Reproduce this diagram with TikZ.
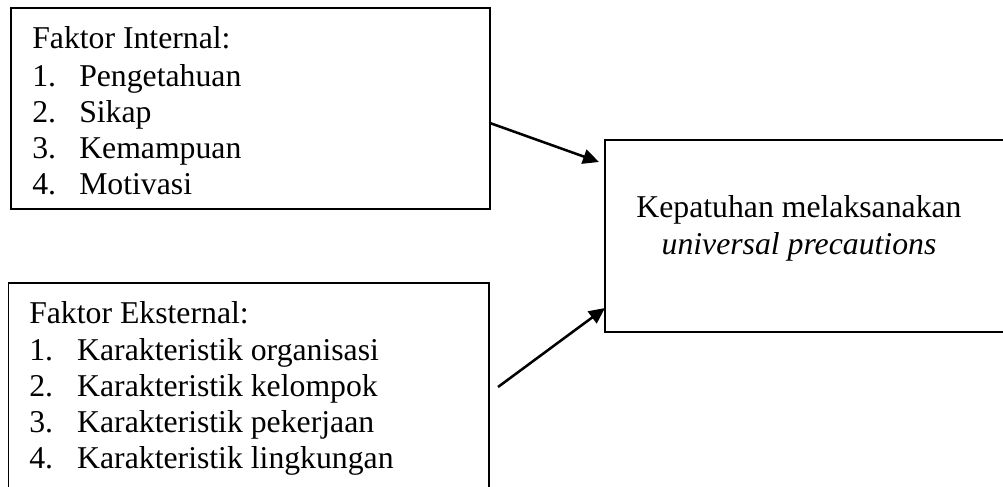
\documentclass[tikz,border=0pt]{standalone}
\usepackage{fontspec}
\setmainfont{Liberation Serif}
\usetikzlibrary{arrows.meta}

\tikzset{
  kotak/.style={draw, line width=1.4pt, inner sep=0pt, outer sep=0pt},
  teks/.style={anchor=base west, inner sep=0pt, font=\fontsize{23.8}{27}\selectfont},
  tengah/.style={anchor=base, inner sep=0pt, font=\fontsize{23.8}{27}\selectfont},
  panah/.style={line width=1.9pt, -{Triangle[length=12pt,width=11pt]}}
}

\begin{document}
\begin{tikzpicture}[x=0.75pt, y=-0.75pt]
\path[use as bounding box, clip] (0,0) rectangle (1003,486);

% kotak faktor internal
\node[kotak, minimum width=359.25pt, minimum height=150.75pt] (internal) at (250.5,108.5) {};
\node[teks] (intjudul) at (32,48) {Faktor Internal:};
\foreach \t [count=\i] in {Pengetahuan, Sikap, Kemampuan, Motivasi}
  \node[teks] (int\i) at (32,{50+36*\i}) {\makebox[35.25pt][l]{\i.}\t};

% kotak faktor eksternal
\node[kotak, minimum width=360.4pt, minimum height=177.75pt] (eksternal) at (248.75,401.5) {};
\node[teks] (eksjudul) at (29,323) {Faktor Eksternal:};
\foreach \t [count=\i] in {organisasi, kelompok, pekerjaan, lingkungan}
  \node[teks] (eks\i) at (29,{324+36*\i}) {\makebox[36pt][l]{\i.}Karakteristik \t};

% kotak kepatuhan
\node[kotak, minimum width=326.25pt, minimum height=144pt] (kepatuhan) at (822.5,236) {};
\node[tengah] (kep1) at (799,217) {Kepatuhan melaksanakan};
\node[tengah] (kep2) at (799,254) {\itshape universal precautions};

\coordinate (ujung1) at (599,162);
\coordinate (pangkal2) at (498,387);
\draw[panah] ([yshift=-10.9pt]internal.east) -- (ujung1);
\draw[panah] (pangkal2) -- ([yshift=-54pt]kepatuhan.west);

\end{tikzpicture}
\end{document}
